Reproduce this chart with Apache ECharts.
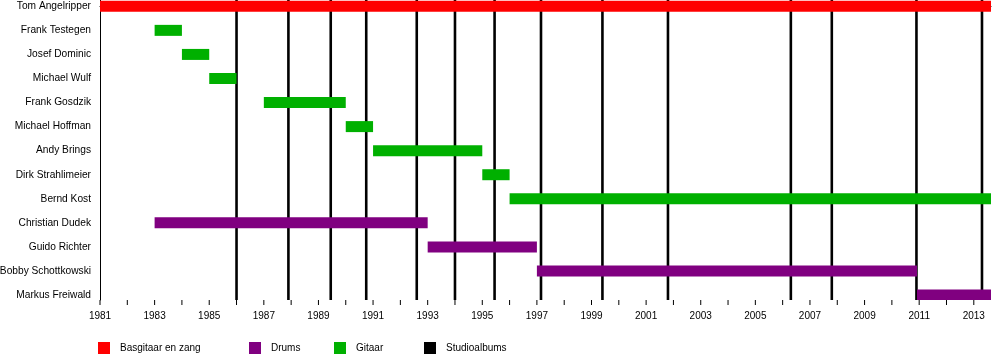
<!DOCTYPE html>
<html>
<head>
<meta charset="utf-8">
<script src="https://cdn.jsdelivr.net/npm/echarts@6/dist/echarts.min.js"></script>
<style>
  html, body { margin: 0; padding: 0; background: #fff; }
  #chart { width: 1000px; height: 360px; }
</style>
</head>
<body>
<div id="chart"></div>
<script>
// ---- data ----
const members = ['Tom Angelripper', 'Frank Testegen', 'Josef Dominic', 'Michael Wulf', 'Frank Gosdzik',
  'Michael Hoffman', 'Andy Brings', 'Dirk Strahlimeier', 'Bernd Kost', 'Christian Dudek',
  'Guido Richter', 'Bobby Schottkowski', 'Markus Freiwald'];
const endDate = 2013.63;
// [member row, start year, end year]
const bassVocalsSpans = [[0, 1981, endDate]];
const drumsSpans = [[9, 1983, 1993], [10, 1993, 1997], [11, 1997, 2010.92], [12, 2010.92, endDate]];
const guitarSpans = [[1, 1983, 1984], [2, 1984, 1985], [3, 1985, 1986], [4, 1987, 1990], [5, 1990, 1991],
  [6, 1991, 1995], [7, 1995, 1996], [8, 1996, endDate]];
const studioAlbums = [1986.0, 1987.9, 1989.45, 1990.75, 1992.6, 1994.0, 1995.45, 1997.15, 1999.4,
  2001.8, 2006.3, 2007.8, 2010.9, 2013.3];
const tickYears = [1981, 1982, 1983, 1984, 1985, 1986, 1987, 1988, 1989, 1990, 1991, 1992, 1993, 1994,
  1995, 1996, 1997, 1998, 1999, 2000, 2001, 2002, 2003, 2004, 2005, 2006, 2007, 2008, 2009, 2010,
  2011, 2012, 2013];
const labelYears = [1981, 1983, 1985, 1987, 1989, 1991, 1993, 1995, 1997, 1999, 2001, 2003, 2005,
  2007, 2009, 2011, 2013];
const roleNames = ['Basgitaar en zang', 'Drums', 'Gitaar', 'Studioalbums'];
const roleColors = ['#ff0000', '#800080', '#00b000', '#000000'];

// ---- chart ----
const FONT = 'Liberation Sans, Arial, sans-serif';
const chart = echarts.init(document.getElementById('chart'), null, { renderer: 'canvas' });

function barRender(params, api) {
  const row = api.value(0);
  const p0 = api.coord([api.value(1), row]);
  const p1 = api.coord([api.value(2), row]);
  const h = 11;
  const shape = echarts.graphic.clipRectByRect(
    { x: p0[0], y: p0[1] - h / 2, width: p1[0] - p0[0], height: h },
    { x: params.coordSys.x, y: params.coordSys.y, width: params.coordSys.width, height: params.coordSys.height }
  );
  return shape && { type: 'rect', shape: shape, style: { fill: api.visual('color') } };
}

function albumRender(params, api) {
  const p = api.coord([api.value(0), 0]);
  const cs = params.coordSys;
  return {
    type: 'line',
    shape: { x1: p[0], y1: cs.y, x2: p[0], y2: cs.y + cs.height },
    style: { stroke: api.visual('color'), lineWidth: 2.6 }
  };
}

// year ticks below the axis, placed via the x scale
function tickRender(params, api) {
  const p = api.coord([api.value(0), 0]);
  const cs = params.coordSys;
  const y = cs.y + cs.height;
  return {
    type: 'line', silent: true,
    shape: { x1: p[0], y1: y, x2: p[0], y2: y + 5 },
    style: { stroke: '#000', lineWidth: 1 }
  };
}

function barSeries(name, color, spans) {
  return {
    name: name, type: 'custom', renderItem: barRender, z: 3,
    itemStyle: { color: color },
    encode: { x: [1, 2], y: 0 },
    data: spans
  };
}

const legendLefts = [98, 249, 334, 424];

const option = {
  animation: false,
  backgroundColor: '#fff',
  textStyle: { fontFamily: FONT },
  grid: { left: 100, right: 9, top: 0, height: 300, containLabel: false, outerBoundsMode: 'none' },
  xAxis: {
    type: 'value', min: 1981, max: endDate, interval: 1,
    axisLine: { show: true, lineStyle: { color: '#000', width: 1 } },
    axisTick: { show: false },
    axisLabel: { color: '#000', fontSize: 10, fontFamily: FONT, margin: 11, customValues: labelYears,
      formatter: v => String(v) },
    splitLine: { show: false }
  },
  yAxis: {
    type: 'value', inverse: true, min: -0.262, max: 12.207,
    axisLine: { show: true, lineStyle: { color: '#000', width: 1 } },
    axisTick: { show: false },
    axisLabel: { color: '#000', fontSize: 10.2, fontFamily: FONT, margin: 9,
      customValues: members.map((m, i) => i), formatter: v => members[v] },
    splitLine: { show: false }
  },
  legend: roleNames.map((n, i) => ({
    data: [{ name: n, icon: 'rect' }],
    left: legendLefts[i], top: 342, padding: 0,
    itemWidth: 12, itemHeight: 12,
    textStyle: { color: '#000', fontSize: 10, fontFamily: FONT, padding: [2, 0, 0, 5] },
    selectedMode: false
  })),
  series: [
    barSeries(roleNames[0], roleColors[0], bassVocalsSpans),
    barSeries(roleNames[1], roleColors[1], drumsSpans),
    barSeries(roleNames[2], roleColors[2], guitarSpans),
    {
      name: roleNames[3], type: 'custom', renderItem: albumRender, z: 2,
      itemStyle: { color: roleColors[3] },
      encode: { x: 0 },
      data: studioAlbums.map(v => [v])
    },
    {
      name: 'ticks', type: 'custom', renderItem: tickRender, z: 4, clip: false, silent: true,
      encode: { x: 0 },
      data: tickYears.map(v => [v])
    }
  ]
};
chart.setOption(option);
</script>
</body>
</html>
